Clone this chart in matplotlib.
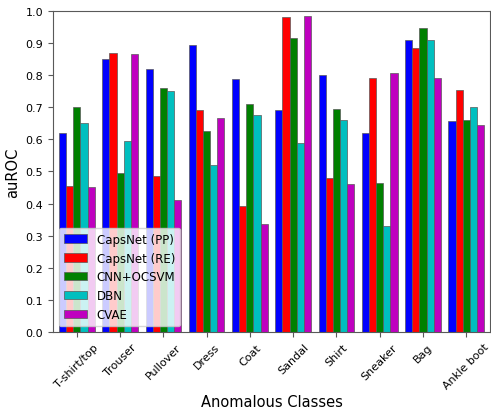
import matplotlib
matplotlib.use("Agg")
import matplotlib.pyplot as plt
import numpy as np

categories = ["T-shirt/top", "Trouser", "Pullover", "Dress", "Coat", "Sandal",
              "Shirt", "Sneaker", "Bag", "Ankle boot"]
series_names = ["CapsNet (PP)", "CapsNet (RE)", "CNN+OCSVM", "DBN", "CVAE"]
capsnet_pp = [0.62, 0.85, 0.82, 0.895, 0.788, 0.69, 0.80, 0.62, 0.91, 0.657]
capsnet_re = [0.453, 0.87, 0.485, 0.69, 0.392, 0.98, 0.478, 0.79, 0.885, 0.755]
cnn_ocsvm = [0.70, 0.495, 0.76, 0.625, 0.71, 0.915, 0.695, 0.465, 0.948, 0.66]
dbn = [0.65, 0.595, 0.75, 0.52, 0.675, 0.59, 0.66, 0.33, 0.91, 0.70]
cvae = [0.45, 0.865, 0.41, 0.665, 0.335, 0.985, 0.46, 0.805, 0.79, 0.646]
colors = ["b", "r", "g", "c", "m"]

fig = plt.figure(figsize=(4.91, 4.10), dpi=100)
ax = fig.add_axes([0.108, 0.188, 0.89, 0.783])
x = np.arange(len(categories))
w = 0.165
for i, (vals, name, c) in enumerate(zip([capsnet_pp, capsnet_re, cnn_ocsvm, dbn, cvae],
                                         series_names, colors)):
    ax.bar(x + (i - 2) * w, vals, w, color=c, edgecolor="0.35", linewidth=0.5, label=name)

for s in ax.spines.values():
    s.set_color("0.35")
ax.set_ylim(0, 1.0)
ax.set_yticks(np.arange(0, 1.01, 0.1))
ax.set_xlim(-0.55, 9.55)
ax.set_xticks(x)
ax.set_xticklabels(categories, rotation=45)
ax.tick_params(labelsize=8, color="0.35")
ax.set_ylabel("auROC", fontsize=10.5)
ax.set_xlabel("Anomalous Classes", fontsize=10.5, labelpad=2)
ax.legend(loc="lower left", fontsize=8.5, framealpha=0.8)
fig.savefig("out.png", dpi=100)
